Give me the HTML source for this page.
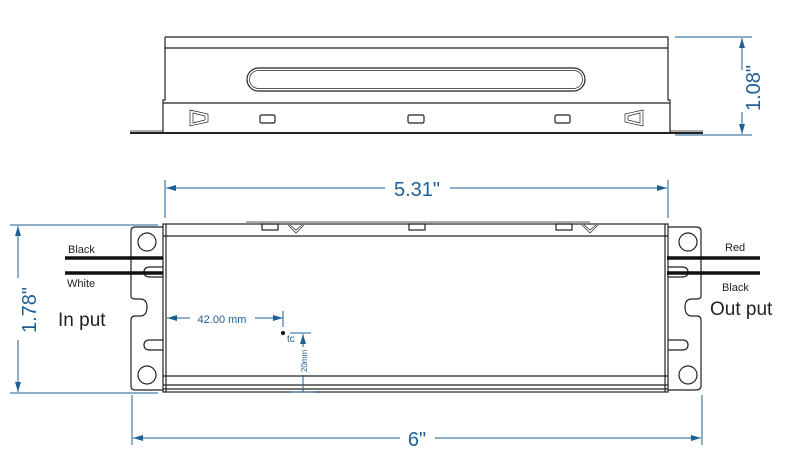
<!DOCTYPE html>
<html><head><style>body{margin:0;background:#fff}svg{display:block}</style></head><body>
<svg width="807" height="455" viewBox="0 0 807 455" xmlns="http://www.w3.org/2000/svg" font-family="Liberation Sans, sans-serif">
<defs><marker id="a" markerWidth="10" markerHeight="6" refX="10" refY="3" orient="auto-start-reverse" markerUnits="userSpaceOnUse"><path d="M0,0L10,3L0,6z" fill="#1d5f96"/></marker></defs>
<g fill="none" stroke="#222" stroke-width="1.2">
<!-- top view -->
<path d="M165,37H668V48M165,37V48H668"/>
<path d="M165,48V100H163V134M668,48V100H670V134"/>
<line x1="163" y1="103" x2="670" y2="103"/>
<path d="M130,133H703" stroke-width="2"/>
<path d="M130,131H163M670,131H703" stroke-width="0.8"/>
<rect x="247" y="68" width="338" height="23" rx="11.5"/>
<rect x="249.5" y="70.5" width="333" height="18" rx="9" stroke-width="0.7"/>
<rect x="260" y="115" width="15" height="8" rx="1.5"/>
<rect x="408" y="115" width="16" height="8" rx="1.5"/>
<rect x="555" y="115" width="15" height="8" rx="1.5"/>
<path d="M190,110L208,114V122L190,126Z M193,113L205,116V120L193,123Z" stroke-width="0.7"/>
<path d="M643,110L625,114V122L643,126Z M640,113L628,116V120L640,123Z" stroke-width="0.7"/>
<!-- bottom view -->
<rect x="163" y="224" width="505" height="168"/>
<line x1="163" y1="236" x2="668" y2="236"/>
<line x1="163" y1="376" x2="668" y2="376"/>
<line x1="163" y1="385" x2="668" y2="385"/>
<line x1="163" y1="389" x2="668" y2="389"/>
<line x1="166" y1="224" x2="166" y2="392"/>
<line x1="665" y1="224" x2="665" y2="392"/>
<path d="M246,222H590" stroke-width="0.8"/>
<rect x="262" y="224" width="16" height="6"/><rect x="409" y="224" width="16" height="6"/><rect x="556" y="224" width="16" height="6"/>
<path d="M288,225L296,233L304,225M290,225L296,230L302,225M582,225L590,233L598,225M584,225L590,230L596,225" stroke-width="0.7"/>
<!-- left flange -->
<path d="M163,227H135Q131,227 131,231V296Q131,299 135,299H140Q147,299 147,307Q147,316 140,316H135Q131,316 131,320V386Q131,390 135,390H163"/>
<circle cx="147" cy="242" r="9"/><circle cx="147" cy="375" r="9"/>
<path d="M163,267H150Q144,267 144,272Q144,277 150,277H163"/>
<path d="M163,340H150Q144,340 144,345Q144,350 150,350H163"/>
<!-- right flange -->
<path d="M668,227H696Q701,227 701,231V296Q701,299 697,299H692Q685,299 685,307Q685,316 692,316H697Q701,316 701,320V386Q701,390 696,390H668"/>
<circle cx="688" cy="242" r="9"/><circle cx="688" cy="375" r="9"/>
<path d="M668,267H682Q688,267 688,272Q688,277 682,277H668"/>
<path d="M668,340H682Q688,340 688,345Q688,350 682,350H668"/>
</g>
<g stroke="#111" stroke-width="3.5">
<line x1="65" y1="258" x2="163" y2="258"/><line x1="65" y1="273" x2="163" y2="273"/>
<line x1="667" y1="258" x2="760" y2="258"/><line x1="667" y1="273" x2="760" y2="273"/>
</g>
<g font-size="11" fill="#222"><text x="68" y="253">Black</text><text x="67" y="287">White</text><text x="725" y="251">Red</text><text x="722" y="291">Black</text></g>
<g font-size="19" fill="#222"><text x="58" y="326">In put</text><text x="710" y="315">Out put</text></g>
<!-- dimensions -->
<g stroke="#1d5f96" stroke-width="1" fill="none">
<path d="M675,37H752M675,135H752"/>
<line x1="742" y1="38" x2="742" y2="70" marker-start="url(#a)"/><line x1="742" y1="112" x2="742" y2="134" marker-end="url(#a)"/>
<path d="M165,180V218M668,180V218"/>
<line x1="166" y1="188" x2="385" y2="188" marker-start="url(#a)"/><line x1="450" y1="188" x2="667" y2="188" marker-end="url(#a)"/>
<path d="M132,395V445M702,395V445"/>
<line x1="133" y1="438" x2="400" y2="438" marker-start="url(#a)"/><line x1="435" y1="438" x2="701" y2="438" marker-end="url(#a)"/>
<path d="M10,225H158M10,393H158"/>
<line x1="18" y1="226" x2="18" y2="278" marker-start="url(#a)"/><line x1="18" y1="340" x2="18" y2="392" marker-end="url(#a)"/>
<line x1="167" y1="318" x2="190" y2="318" marker-start="url(#a)"/><line x1="255" y1="318" x2="283" y2="318" marker-end="url(#a)"/>
<line x1="283" y1="311" x2="283" y2="327"/>
<path d="M290,333H311"/>
<line x1="303" y1="334" x2="303" y2="347" marker-start="url(#a)"/><line x1="303" y1="375" x2="303" y2="392"/>
<path d="M290,392H314"/>
</g>
<g fill="#1d5f96">
<text x="417" y="196" font-size="20" text-anchor="middle">5.31"</text>
<text x="417" y="446" font-size="20" text-anchor="middle">6"</text>
<text transform="translate(760,88) rotate(-90)" font-size="20" text-anchor="middle">1.08"</text>
<text transform="translate(36,310) rotate(-90)" font-size="20" text-anchor="middle">1.78"</text>
<text x="222" y="323" font-size="11" text-anchor="middle">42.00 mm</text>
<text transform="translate(307,361) rotate(-90)" font-size="8" text-anchor="middle">20mm</text>
</g>
<circle cx="283" cy="333" r="2" fill="#111"/>
<text x="287" y="342" font-size="10" fill="#1d5f96">tc</text>
</svg>
</body></html>
